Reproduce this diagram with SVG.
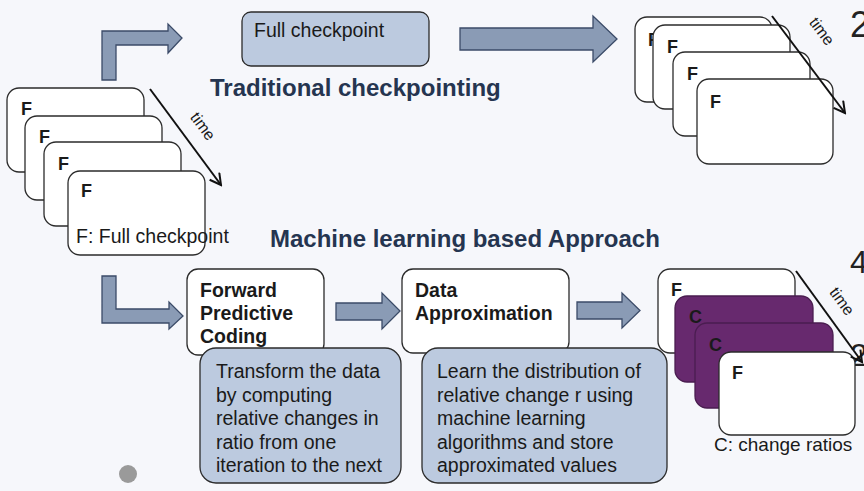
<svg xmlns="http://www.w3.org/2000/svg" width="864" height="491" viewBox="0 0 864 491">
  <defs>
    <style>
      .card { fill: #ffffff; stroke: #2b2b2b; stroke-width: 1.3; }
      .cardC { fill: #67296e; stroke: #4a1d50; stroke-width: 1.3; }
      .note { fill: #bccadf; stroke: #2b2b2b; stroke-width: 1.3; }
      .step { fill: #ffffff; stroke: #2b2b2b; stroke-width: 1.3; }
      .fat { fill: #8a9bb5; stroke: #3b4b68; stroke-width: 1.3; stroke-linejoin: miter; }
      .timeline { stroke: #111; stroke-width: 2; fill: none; }
      .t { font-family: "Liberation Sans", Arial, sans-serif; fill: #1a1a1a; }
      .lbl { font-size: 19.5px; }
      .bold { font-weight: bold; }
      .tag { font-size: 18px; font-weight: bold; }
      .head { font-size: 24px; font-weight: bold; fill: #253550; }
      .time { font-size: 16px; }
      .big { font-size: 36px; fill: #222; }
    </style>
    <marker id="arrowOpen" markerWidth="14" markerHeight="14" refX="12" refY="7" orient="auto" markerUnits="userSpaceOnUse">
      <path d="M1,1 L12,7 L1,13" fill="none" stroke="#111" stroke-width="2"/>
    </marker>
  </defs>

  <rect x="0" y="0" width="864" height="491" fill="#f6f7fb"/>

  <!-- stray slide numerals at the right edge -->
  <g id="edge-numerals">
    <text class="t big" x="850" y="37">2</text>
    <text class="t big" x="850" y="273" style="font-size:32px">4</text>
    <text class="t big" x="850" y="366" style="font-size:32px">2</text>
  </g>

  <!-- headings -->
  <text id="title-traditional" class="t head" x="210" y="96">Traditional checkpointing</text>
  <text id="title-ml" class="t head" x="270" y="247">Machine learning based Approach</text>

  <!-- source stack of full checkpoints -->
  <g id="source-stack">
    <rect class="card" x="7" y="88" width="137" height="84" rx="12"/>
    <text class="t tag" x="21" y="115">F</text>
    <rect class="card" x="25" y="116" width="137" height="84" rx="12"/>
    <text class="t tag" x="39" y="143">F</text>
    <rect class="card" x="44" y="142" width="137" height="84" rx="12"/>
    <text class="t tag" x="58" y="170">F</text>
    <rect class="card" x="68" y="171" width="137" height="84" rx="12"/>
    <text class="t tag" x="81" y="197">F</text>
    <text class="t lbl" x="76" y="243">F: Full checkpoint</text>
  </g>

  <!-- traditional path -->
  <g id="full-checkpoint">
    <rect class="note" x="242" y="12" width="187" height="54" rx="9"/>
    <text class="t lbl" x="254" y="37">Full checkpoint</text>
  </g>

  <g id="traditional-stack">
    <rect class="card" x="635" y="17" width="137" height="85" rx="12"/>
    <text class="t tag" x="648" y="46">F</text>
    <rect class="card" x="653" y="25" width="137" height="84" rx="12"/>
    <text class="t tag" x="667" y="53">F</text>
    <rect class="card" x="673" y="52" width="137" height="84" rx="12"/>
    <text class="t tag" x="687" y="80">F</text>
    <rect class="card" x="697" y="79" width="136" height="85" rx="12"/>
    <text class="t tag" x="710" y="108">F</text>
  </g>

  <!-- ML path -->
  <g id="forward-predictive-coding">
    <rect class="step" x="187" y="269" width="137" height="86" rx="11"/>
    <text class="t lbl bold" x="200" y="297">Forward</text>
    <text class="t lbl bold" x="200" y="320">Predictive</text>
    <text class="t lbl bold" x="200" y="343">Coding</text>
  </g>

  <g id="fpc-note">
    <rect class="note" x="200" y="348" width="201" height="135" rx="16"/>
    <text class="t lbl" x="216" y="378">Transform the data</text>
    <text class="t lbl" x="216" y="401.5">by computing</text>
    <text class="t lbl" x="216" y="425">relative changes in</text>
    <text class="t lbl" x="216" y="448.5">ratio from one</text>
    <text class="t lbl" x="216" y="472">iteration to the next</text>
  </g>

  <g id="data-approximation">
    <rect class="step" x="402" y="269" width="167" height="84" rx="11"/>
    <text class="t lbl bold" x="415" y="297">Data</text>
    <text class="t lbl bold" x="415" y="320">Approximation</text>
  </g>

  <g id="da-note">
    <rect class="note" x="422" y="348" width="245" height="135" rx="16"/>
    <text class="t lbl" x="437" y="378">Learn the distribution of</text>
    <text class="t lbl" x="437" y="401.5">relative change r using</text>
    <text class="t lbl" x="437" y="425">machine learning</text>
    <text class="t lbl" x="437" y="448.5">algorithms and store</text>
    <text class="t lbl" x="437" y="472">approximated values</text>
  </g>

  <g id="ml-stack">
    <rect class="card" x="658" y="269" width="137" height="84" rx="12"/>
    <text class="t tag" x="671" y="296">F</text>
    <rect class="cardC" x="675" y="296" width="138" height="86" rx="12"/>
    <text class="t tag" x="689" y="323">C</text>
    <rect class="cardC" x="695" y="323" width="138" height="85" rx="12"/>
    <text class="t tag" x="709" y="351">C</text>
    <rect class="card" x="719" y="352" width="136" height="83" rx="12"/>
    <text class="t tag" x="732" y="379">F</text>
    <text class="t lbl" x="714" y="451" style="font-size:19px">C: change ratios</text>
  </g>

  <!-- connectors -->
  <g id="connectors">
    <path class="fat" d="M102,80 L102,31 L168,31 L168,24 L182,38 L168,53 L168,45 L116,45 L116,80 Z"/>
    <path class="fat" d="M460,28 L593,28 L593,16 L617,39 L593,62 L593,50 L460,50 Z"/>
    <path class="fat" d="M102,276 L116,276 L116,309 L169,309 L169,302 L183,316 L169,329 L169,323 L102,323 Z"/>
    <path class="fat" d="M336,303 L382,303 L382,293 L400,311 L382,329 L382,320 L336,320 Z"/>
    <path class="fat" d="M577,302 L622,302 L622,293 L640,310.5 L622,328 L622,319 L577,319 Z"/>
  </g>

  <!-- time axes -->
  <g id="time-axes">
    <line class="timeline" x1="150" y1="89" x2="221" y2="185" marker-end="url(#arrowOpen)"/>
    <text class="t time" transform="translate(202,127) rotate(53.5)" text-anchor="middle" dominant-baseline="middle">time</text>
    <line class="timeline" x1="772" y1="16" x2="845" y2="113" marker-end="url(#arrowOpen)"/>
    <text class="t time" transform="translate(821,32) rotate(53)" text-anchor="middle" dominant-baseline="middle">time</text>
    <line class="timeline" x1="796" y1="271" x2="862" y2="362" marker-end="url(#arrowOpen)"/>
    <text class="t time" transform="translate(841,302) rotate(54)" text-anchor="middle" dominant-baseline="middle">time</text>
  </g>

  <circle id="bullet" cx="128" cy="474" r="9" fill="#9a9a9a"/>
</svg>
